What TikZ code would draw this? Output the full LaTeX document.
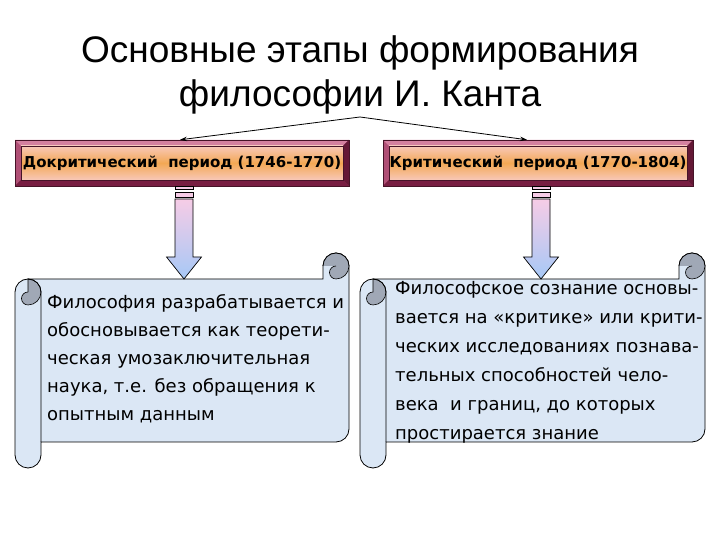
\documentclass[tikz,border=0pt]{standalone}
\usepackage{fontspec}
\setmainfont{DejaVu Sans}
\newfontfamily\titlefont{Liberation Sans}
\newfontfamily\comicfont{DejaVu Sans}
\usetikzlibrary{arrows.meta}

\definecolor{paper}{RGB}{219,231,245}
\definecolor{rollgray}{RGB}{160,168,182}
\definecolor{frameA}{RGB}{212,128,160}
\definecolor{frameB}{RGB}{120,30,66}
\definecolor{frameC}{RGB}{176,80,118}
\definecolor{frameD}{RGB}{100,24,54}
\definecolor{boxedge}{RGB}{70,20,40}
\definecolor{peach}{RGB}{248,200,185}
\definecolor{orng}{RGB}{243,168,84}
\definecolor{apink}{RGB}{246,204,230}
\definecolor{ablue}{RGB}{166,200,246}

% period box frame: #1 x0, #2 y0 (bottom), #3 x1, #4 y1 (top)
\newcommand\kframe[4]{%
  \fill[frameC] (#1,#2) rectangle (#3,#4);
  \fill[frameA] (#1,#4) -- (#3,#4) -- ({#3-6},{#4-6}) -- ({#1+6},{#4-6}) -- cycle;
  \fill[frameB] (#1,#2) -- (#3,#2) -- ({#3-6},{#2+6}) -- ({#1+6},{#2+6}) -- cycle;
  \fill[frameD] (#3,#2) -- (#3,#4) -- ({#3-6},{#4-6}) -- ({#3-6},{#2+6}) -- cycle;
  \shade[top color=peach, bottom color=peach, middle color=orng] ({#1+6},{#2+6}) rectangle ({#3-6},{#4-6});
  \draw[boxedge, line width=0.8pt] (#1,#2) rectangle (#3,#4);
  \draw[boxedge, line width=0.5pt] ({#1+6},{#2+6}) rectangle ({#3-6},{#4-6});
}

% horizontal scroll: #1 left x, #2 right x
\newcommand\kscroll[2]{%
  \filldraw[fill=paper, draw=black, line width=0.8pt]
    (#1,248) arc[start angle=180,end angle=90,radius=13]
    -- ({#2-26},261) -- ({#2-26},274) arc[start angle=180,end angle=0,radius=13]
    -- (#2,111) arc[start angle=0,end angle=-90,radius=13]
    -- ({#1+26},98) -- ({#1+26},85) arc[start angle=0,end angle=-180,radius=13]
    -- cycle;
  % top-right roll
  \fill[rollgray] ({#2-26},274) arc[start angle=180,end angle=0,radius=13]
    arc[start angle=0,end angle=-90,radius=13]
    arc[start angle=270,end angle=90,radius=6.5] -- cycle;
  \draw[line width=0.8pt] ({#2-26},274) arc[start angle=180,end angle=0,radius=13];
  \draw[line width=0.6pt] (#2,274) arc[start angle=0,end angle=-90,radius=13]
    arc[start angle=270,end angle=90,radius=6.5];
  % top-left roll
  \filldraw[fill=rollgray, draw=black, line width=0.6pt] ({#1+13},261) arc[start angle=90,end angle=-90,radius=13]
    arc[start angle=270,end angle=90,radius=6.5] -- cycle;
  \draw[line width=0.8pt] ({#1+13},261) arc[start angle=90,end angle=0,radius=13] -- ({#1+26},98);
}

% striped block arrow: #1 centre x
\newcommand\kdown[1]{%
  \filldraw[fill=apink, draw=black, line width=0.6pt] ({#1-9},351) rectangle ({#1+9},354);
  \filldraw[fill=apink, draw=black, line width=0.6pt] ({#1-9},343) rectangle ({#1+9},348);
  \path[blockarrow] ({#1-9},341) -- ({#1+9},341) -- ({#1+9},283) -- ({#1+17.5},283)
    -- (#1,261) -- ({#1-17.5},283) -- ({#1-9},283) -- cycle;
}

\begin{document}
\begin{tikzpicture}[x=1pt,y=1pt,
  titletext/.style={font=\titlefont\fontsize{37}{44}\selectfont, align=center, inner sep=0},
  periodtext/.style={font=\comicfont\bfseries\fontsize{15}{18}\selectfont, inner sep=0,
     minimum width=334pt, minimum height=46pt},
  scrolltext/.style={font=\comicfont\fontsize{18}{28}\selectfont, align=left, inner sep=0, anchor=base west},
  link/.style={-{Stealth[length=7pt,width=4.5pt]}, line width=0.8pt},
  blockarrow/.style={draw=black, line width=0.7pt, top color=apink, bottom color=ablue},
]
\useasboundingbox (0,0) rectangle (720,540);
\fill[white] (0,0) rectangle (720,540);

% base anchor = baseline of the last line
\node[titletext, anchor=base] (title) at (360,433) {Основные этапы формирования\\философии И. Канта};
\coordinate (hub) at (360,423);

\kframe{15}{354}{349}{400}
\kframe{383}{354}{693}{400}
\node[periodtext] (boxL) at (182,377) {Докритический\ \ период (1746-1770)};
\node[periodtext, minimum width=310pt] (boxR) at (538,377) {Критический\ \ период (1770-1804)};

\draw[link] (hub) -- ([xshift=-2pt]boxL.north);
\draw[link] (hub) -- ([xshift=-11pt]boxR.north);

\kscroll{15}{349}
\kscroll{360}{705}

\kdown{184}
\kdown{541}

\node[scrolltext] (txtL) at (47,119) {Философия разрабатывается и\\обосновывается как теорети-\\ческая умозаключительная\\наука, т.е. без обращения к\\опытным данным};
\node[scrolltext, font=\comicfont\fontsize{18}{29}\selectfont] (txtR) at (395,100) {Философское сознание основы-\\вается на «критике» или крити-\\ческих исследованиях познава-\\тельных способностей чело-\\века\ \ и границ, до которых\\простирается знание};
\end{tikzpicture}
\end{document}
